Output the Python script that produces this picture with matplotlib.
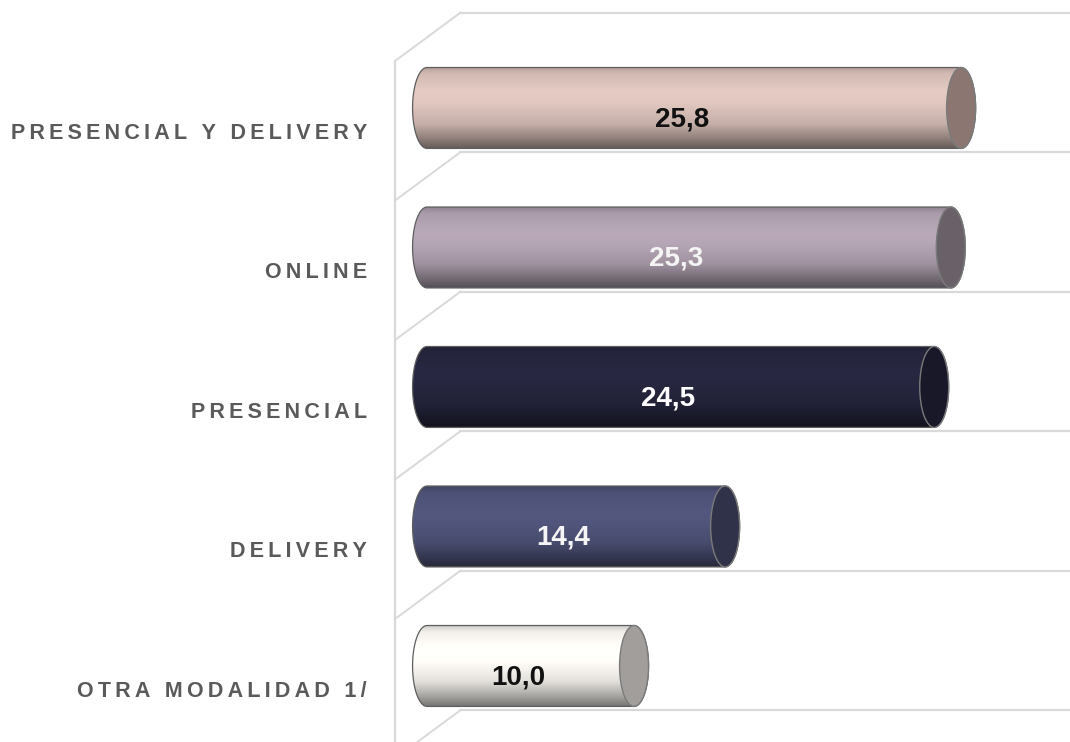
import numpy as np
import matplotlib
matplotlib.use('Agg')
import matplotlib.pyplot as plt
from matplotlib import font_manager
from matplotlib.patches import Ellipse, PathPatch
from matplotlib.path import Path

# datos
categorias = ['PRESENCIAL Y DELIVERY', 'ONLINE', 'PRESENCIAL', 'DELIVERY', 'OTRA MODALIDAD 1/']
valores = [25.8, 25.3, 24.5, 14.4, 10.0]
etiquetas = ['25,8', '25,3', '24,5', '14,4', '10,0']

# colores (cuerpo, tapa, texto)
colores = ['#dcc3bc', '#b2a3b2', '#26263f', '#50547a', '#fcf9f4']
tapas = ['#8b7672', '#6a6068', '#181829', '#2f3248', '#a29e9b']
col_texto = ['#111111', '#f4f4f4', '#ffffff', '#f4f4f4', '#111111']

# fuente estrecha si existe
disponibles = {f.name for f in font_manager.fontManager.ttflist}
fuente_num = 'Liberation Sans'
for f in ['Liberation Sans Narrow', 'DejaVu Sans Condensed', 'Liberation Sans']:
    if f in disponibles:
        fuente_num = f
        break

fig = plt.figure(figsize=(10.7, 7.42), dpi=100)
ax = fig.add_axes([0, 0, 1, 1])

alto = 0.58      # altura del cilindro (en unidades de categoria)
semi = 0.70      # semi-ancho de la tapa eliptica (unidades de valor)
prof_x = 3.14    # profundidad de la pared de fondo
prof_y = 0.344
x_muro = -1.546

# pared y piso (lineas de fondo)
gris = '#d9d9d9'
for k in range(len(categorias) + 1):
    yb = k - 0.681
    ax.plot([x_muro + prof_x, 40], [yb, yb], color=gris, lw=1.6, zorder=1)
    ax.plot([x_muro, x_muro + prof_x], [yb + prof_y, yb], color=gris, lw=1.4, zorder=1)
ax.plot([x_muro, x_muro], [-0.681 + prof_y, 6], color=gris, lw=1.6, zorder=1)

# degradado vertical del cilindro
paradas = [0.0, 0.08, 0.3, 0.45, 0.7, 0.88, 1.0]
factores = [0.82, 0.96, 1.04, 1.02, 0.9, 0.66, 0.48]
t = np.linspace(0, 1, 120)
fac = np.interp(t, paradas, factores)

for i, (v, c, ct, ctx, et) in enumerate(zip(valores, colores, tapas, col_texto, etiquetas)):
    y0, y1 = i - alto / 2, i + alto / 2
    base = np.array(matplotlib.colors.to_rgb(c))
    grad = np.clip(base[None, :] * fac[:, None], 0, 1)[:, None, :]

    # contorno: tapa derecha (media elipse) y extremo izquierdo redondeado
    th = np.linspace(-np.pi / 2, np.pi / 2, 60)
    der = np.column_stack([v + semi * np.cos(th), i + alto / 2 * np.sin(th)])
    izq = np.column_stack([0 - semi * np.cos(th[::-1]), i + alto / 2 * np.sin(th[::-1])])
    pts = np.vstack([der, izq, der[:1]])
    contorno = PathPatch(Path(pts), transform=ax.transData, facecolor='none',
                         edgecolor='#5e5e5e', lw=0.9, zorder=4)

    im = ax.imshow(grad, extent=(-semi, v + semi, y1, y0), aspect='auto',
                   interpolation='bilinear', zorder=3)
    im.set_clip_path(contorno)
    ax.add_patch(contorno)

    tapa = Ellipse((v, i), 2 * semi, alto, facecolor=ct, edgecolor='#7a7a7a',
                   lw=1.0, zorder=5)
    ax.add_patch(tapa)

    ax.text(v / 2 - 0.6, i + 0.08, et, ha='center', va='center', color=ctx,
            fontsize=20, fontweight='bold', family=[fuente_num, 'DejaVu Sans'], zorder=6)

# etiquetas de categoria con letras espaciadas
for i, cat in enumerate(categorias):
    espaciado = '\u2009'.join(cat)
    ax.text(-2.9, i + 0.18, espaciado, ha='right', va='center', color='#5a5a5a',
            fontsize=15.5, fontweight='bold', family=['Liberation Sans', 'DejaVu Sans'])

ax.set_xlim(-20.63, 31.06)
ax.set_ylim(4.545, -0.774)
ax.axis('off')

fig.savefig('out.png', dpi=100, facecolor='white')
